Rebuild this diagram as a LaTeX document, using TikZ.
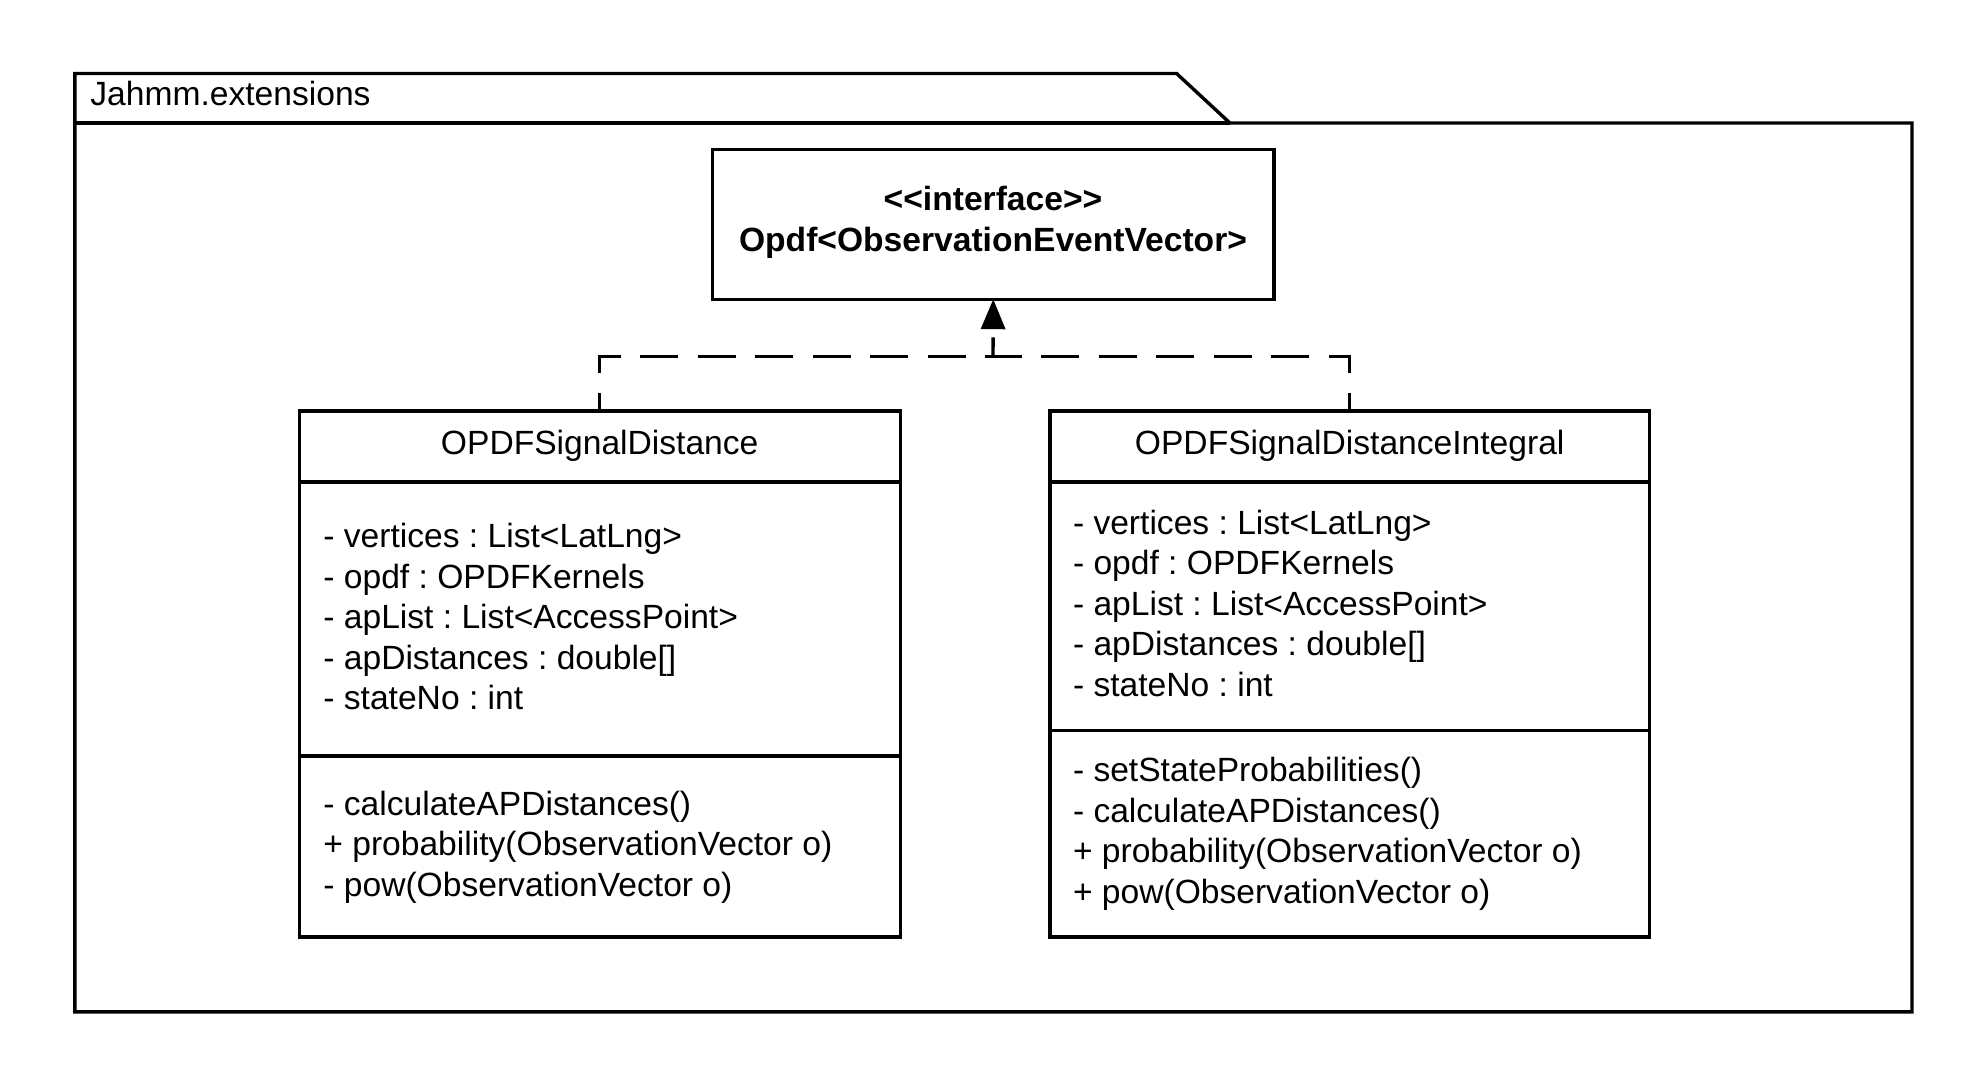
\documentclass[tikz,border=0pt]{standalone}
\usepackage{fontspec}
\setmainfont{Liberation Sans}
\usetikzlibrary{arrows.meta}
\frenchspacing
\begin{document}
\begin{tikzpicture}[x=0.5pt,y=-0.5pt,
  every node/.style={font=\fontsize{16.8}{20.3}\selectfont},
  lw/.style={line width=1.7pt},
  comp/.style={draw, lw, inner sep=0pt, outer sep=0pt, anchor=north west},
  txt/.style={inner sep=0pt, anchor=base west},
  ctxt/.style={inner sep=0pt, anchor=base},
  realiz/.style={lw, dash pattern=on 19pt off 9.75pt, dash phase=10pt},
  realtip/.style={lw, dash pattern=on 9.5pt off 10pt, -{Triangle[length=15pt,width=12pt]}}
]
\useasboundingbox (0,0) rectangle (1988,1088);

% package frame
\draw[lw] (1229.9,123) -- (1912,123) -- (1912,1011.8) -- (74.8,1011.8) -- (74.8,73.5) -- (1176.6,73.5) -- cycle;
\draw[lw] (74.8,123) -- (1229.9,123);
\node[txt] (pkg) at (90,105) {Jahmm.extensions};

% interface
\node[comp, minimum width=280.75pt, minimum height=74.8pt] (iface) at (712.5,149.6) {};
\node[ctxt, font=\fontsize{16.8}{20.3}\selectfont\bfseries] (ifs) at (993,210.5) {<\kern0pt<interface>\kern0pt>};
\node[ctxt, font=\fontsize{16.8}{20.3}\selectfont\bfseries] (ifn) at (993,251.1) {Opdf<ObservationEventVector>};

% class 1
\node[comp, minimum width=300.5pt, minimum height=35.5pt] (c1n) at (299.2,410.8) {};
\node[comp, minimum width=300.5pt, minimum height=137pt] (c1a) at (299.2,481.8) {};
\node[comp, minimum width=300.5pt, minimum height=90.65pt] (c1m) at (299.2,755.7) {};
\node[ctxt] (c1t) at (599.7,454.5) {OPDFSignalDistance};
\foreach \t [count=\i] in {- vertices : List<LatLng>, - opdf : OPDFKernels, - apList : List<AccessPoint>, - apDistances : double[], - stateNo : int}
  \node[txt] (c1a\i) at ({323},{547.5+40.6*(\i-1)}) {\t};
\foreach \t [count=\i] in {- calculateAPDistances(), + probability(ObservationVector o), - pow(ObservationVector o)}
  \node[txt] (c1m\i) at ({323},{815+40.6*(\i-1)}) {\t};

% class 2
\node[comp, minimum width=299.85pt, minimum height=35.5pt] (c2n) at (1049.8,410.8) {};
\node[comp, minimum width=299.85pt, minimum height=124.25pt] (c2a) at (1049.8,481.8) {};
\node[comp, minimum width=299.85pt, minimum height=103.35pt] (c2m) at (1049.8,730.3) {};
\node[ctxt] (c2t) at (1349.7,454.5) {OPDFSignalDistanceIntegral};
\foreach \t [count=\i] in {- vertices : List<LatLng>, - opdf : OPDFKernels, - apList : List<AccessPoint>, - apDistances : double[], - stateNo : int}
  \node[txt] (c2a\i) at ({1072.6},{534+40.6*(\i-1)}) {\t};
\foreach \t [count=\i] in {- setStateProbabilities(), - calculateAPDistances(), + probability(ObservationVector o), + pow(ObservationVector o)}
  \node[txt] (c2m\i) at ({1072.6},{781.5+40.6*(\i-1)}) {\t};

% realization
\coordinate (jn) at (993,356.3);
\draw[realiz] (c1n.north) |- (jn);
\draw[realiz] (c2n.north) |- (jn);
\draw[realtip] (jn) -- (iface.south);
\end{tikzpicture}
\end{document}
